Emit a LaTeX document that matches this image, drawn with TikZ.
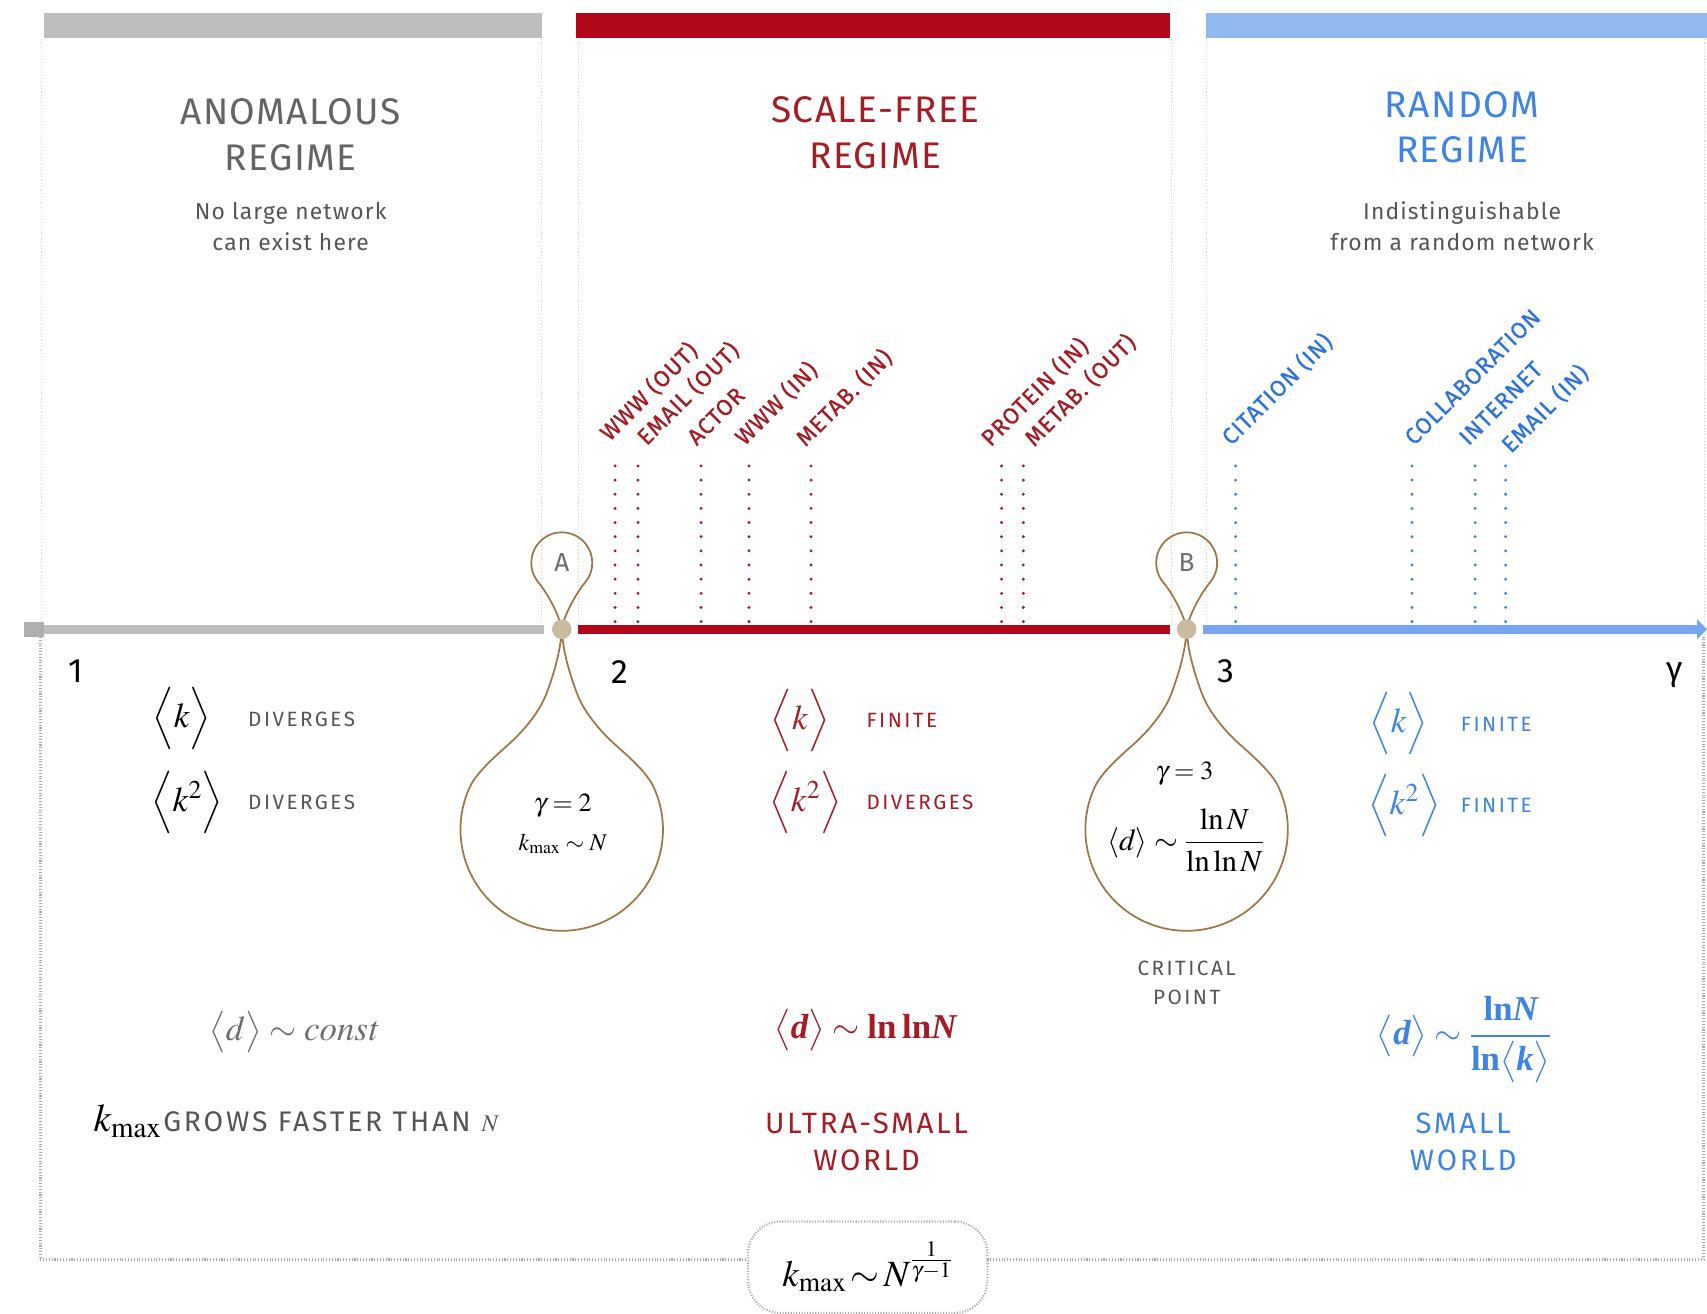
\documentclass[tikz,border=0pt]{standalone}
\usepackage{amsmath}
\usepackage{mathptmx}
\usepackage[no-math]{fontspec}
\setmainfont{Fira Sans}
\newfontfamily\tms{Liberation Serif}
\newcommand{\tbr}[1]{\text{\tms\bfseries #1}}
\newcommand{\tbi}[1]{\text{\tms\bfseries\itshape #1}}
\newcommand{\lsp}[1]{\addfontfeature{LetterSpace=#1}}
\definecolor{sfred}{RGB}{165,28,36}
\definecolor{barred}{RGB}{178,6,26}
\definecolor{rdblue}{RGB}{62,132,226}
\definecolor{lblblue}{RGB}{45,115,222}
\definecolor{barblue}{RGB}{146,184,240}
\definecolor{axblue}{RGB}{120,166,238}
\definecolor{bargray}{RGB}{190,190,190}
\definecolor{stubgray}{RGB}{175,175,175}
\definecolor{txtgray}{RGB}{85,85,85}
\definecolor{ttlgray}{RGB}{100,100,100}
\definecolor{constgray}{RGB}{110,110,110}
\definecolor{abgray}{RGB}{110,110,110}
\definecolor{loopc}{RGB}{160,118,70}
\definecolor{dotc}{RGB}{202,186,158}
\definecolor{framec}{RGB}{170,170,170}
\definecolor{panelc}{RGB}{210,210,210}
\tikzset{
  every node/.style={inner sep=0pt, outer sep=0pt},
  title/.style={font=\fontsize{34}{42}\selectfont\lsp{4}, align=center},
  note/.style={font=\fontsize{21}{28}\selectfont\lsp{5}, text=txtgray, align=center},
  tick/.style={font=\fontsize{31}{31}\selectfont},
  prop/.style={font=\fontsize{19}{19}\selectfont\lsp{12}, anchor=west},
  mth/.style={font=\fontsize{32}{32}\selectfont},
  world/.style={font=\fontsize{27}{34}\selectfont\lsp{9}, align=center},
  netlbl/.style={font=\fontsize{21}{21}\selectfont\lsp{4}\addfontfeature{FakeBold=0.8}, rotate=45, anchor=base west},
  netdots/.style={line width=3pt, line cap=round, dash pattern=on 0pt off 13pt},
  panel/.style={draw=panelc, line width=1pt, dash pattern=on 1pt off 2pt},
  outerframe/.style={draw=framec, line width=3pt, dash pattern=on 1pt off 1.6pt},
  loopline/.style={draw=loopc, line width=1.6pt},
  joint/.style={circle, fill=dotc, minimum size=18pt},
  axisbar/.style={line width=8pt},
}
\begin{document}
\begin{tikzpicture}[x=1pt, y=1pt, yscale=-1]
\useasboundingbox (0,0) rectangle (1568,1207);
\fill[white] (0,0) rectangle (1568,1207);

% top bars
\fill[bargray] (40,12) rectangle (498,35);
\fill[barred] (529,12) rectangle (1075,35);
\fill[barblue] (1108,12) rectangle (1568,35);

% faint panel borders
\foreach \x in {38,497,531,1076,1108,1566} \draw[panel] (\x,36) -- (\x,572);

% titles
\node[title, text=ttlgray] (tAnom) at (267,124) {ANOMALOUS\\REGIME};
\node[note] (nAnom) at (267,208) {No large network\\can exist here};
\node[title, text=sfred] (tSF) at (804,122) {SCALE-FREE\\REGIME};
\node[title, text=rdblue] (tRand) at (1343,117) {RANDOM\\REGIME};
\node[note] (nRand) at (1343,208) {Indistinguishable\\from a random network};

% network markers: dotted line x / label / label base x / label base y
\foreach \x/\t/\lx/\ly [count=\i] in {565/WWW (OUT)/560/406,586/EMAIL (OUT)/594/410,644/ACTOR/640/410,688/WWW (IN)/684/410,745/METAB. (IN)/740/411,920/PROTEIN (IN)/910/411,940/METAB. (OUT)/950/411}{
  \draw[netdots, sfred] (\x,428) -- (\x,572);
  \node[netlbl, text=sfred] (r\i) at (\lx,\ly) {\t};
}
\foreach \x/\t/\lx/\ly [count=\i] in {1135/CITATION (IN)/1131/410,1297/COLLABORATION/1299/410,1355/INTERNET/1349/410,1383/EMAIL (IN)/1388/417}{
  \draw[netdots, rdblue] (\x,428) -- (\x,572);
  \node[netlbl, text=lblblue] (b\i) at (\lx,\ly) {\t};
}

% loops (A, then B shifted)
\foreach \s in {0,574}{
\begin{scope}[xshift=\s pt]
\draw[loopline] (516,578) .. controls (514,565) and (502.3,544.2) .. (494.6,535)
  arc[start angle=140, end angle=400, radius=28]
  .. controls (529.7,544.2) and (518,565) .. (516,578);
\draw[loopline] (516,578) .. controls (515,598) and (509,618.2) .. (502,637)
  .. controls (495.7,653.9) and (481.3,670.9) .. (468,683)
  .. controls (456.9,693) and (438,709) .. (431.7,722.7)
  arc[start angle=205, end angle=-25, radius=93]
  .. controls (594,709) and (575.1,693) .. (564,683)
  .. controls (550.7,670.9) and (536.3,653.9) .. (530,637)
  .. controls (523,618.2) and (517,598) .. (516,578);
\end{scope}
}
\node[joint] (jA) at (516,578) {};
\node[joint] (jB) at (1090,578) {};
\node[font=\fontsize{24}{24}\selectfont, text=abgray] (lA) at (516,517) {A};
\node[font=\fontsize{24}{24}\selectfont, text=abgray] (lB) at (1090,517) {B};

% axis
\node[fill=stubgray, minimum width=18pt, minimum height=14pt] (stub) at (31,578) {};
\draw[axisbar, draw=bargray] (stub.east) -- ([xshift=-7pt]jA.west);
\draw[axisbar, draw=barred] ([xshift=6pt]jA.east) -- ([xshift=-6pt]jB.west);
\coordinate (axend) at (1560,578);
\draw[axisbar, draw=axblue] ([xshift=6pt]jB.east) -- (axend);
\fill[axblue] (1559,569) -- (1568,578) -- (1559,587) -- cycle;

% tick numbers
\node[tick] (n1) at (70,617) {1};
\node[tick] (n2) at (569,617) {2};
\node[tick] (n3) at (1126,617) {3};
\node[tick] (ng) at (1538,620) {γ};

% circle contents
\node[font=\fontsize{24}{24}\selectfont] (gA) at (517,740) {$\gamma=2$};
\node[font=\fontsize{22}{22}\selectfont] (kmA) at (517,775) {$k_{\max}\sim N$};
\node[font=\fontsize{24}{24}\selectfont] (gB) at (1088,711) {$\gamma=3$};
\node[font=\fontsize{28}{28}\selectfont] (dB) at (1089,772) {$\langle d\rangle\sim\dfrac{\ln N}{\ln\ln N}$};
\node[font=\fontsize{19}{27}\selectfont\lsp{12}, text=txtgray, align=center] (crit) at (1090,903) {CRITICAL\\POINT};

% anomalous column
\node[mth] (kA) at (167,660) {$\Bigl\langle k\Bigr\rangle$};
\node[prop, text=txtgray] (kAt) at (228,661) {DIVERGES};
\node[mth] (k2A) at (172,737) {$\Bigl\langle k^2\Bigr\rangle$};
\node[prop, text=txtgray] (k2At) at (228,737) {DIVERGES};
\node[mth, text=constgray] (dConst) at (270,948) {$\bigl\langle d\bigr\rangle\sim \mathit{const}$};
\node[anchor=west] (kGrow) at (86,1030) {{\fontsize{36}{36}\selectfont$k_{\max}$}\,{\fontsize{26}{26}\selectfont\lsp{10}\color{txtgray}GROWS FASTER THAN}\hspace{10pt}{\fontsize{22}{22}\selectfont\color{txtgray}$N$}};

% scale-free column
\node[mth, text=sfred] (kB) at (735,662) {$\Bigl\langle k\Bigr\rangle$};
\node[prop, text=sfred] (kBt) at (796,662) {FINITE};
\node[mth, text=sfred] (k2B) at (740,737) {$\Bigl\langle k^2\Bigr\rangle$};
\node[prop, text=sfred] (k2Bt) at (796,737) {DIVERGES};
\node[mth, text=sfred] (dSF) at (795,946) {$\bigl\langle \tbi{d}\bigr\rangle\sim \tbr{ln\,ln}\tbi{N}$};
\node[world, text=sfred] (wSF) at (796,1049) {ULTRA-SMALL\\WORLD};

% random column
\node[mth, text=rdblue] (kC) at (1285,665) {$\Bigl\langle k\Bigr\rangle$};
\node[prop, text=rdblue] (kCt) at (1342,665) {FINITE};
\node[mth, text=rdblue] (k2C) at (1290,740) {$\Bigl\langle k^2\Bigr\rangle$};
\node[prop, text=rdblue] (k2Ct) at (1342,740) {FINITE};
\node[mth, text=rdblue] (dRand) at (1345,955) {$\bigl\langle \tbi{d}\bigr\rangle\sim \dfrac{\tbr{ln}\tbi{N}}{\tbr{ln}\bigl\langle \tbi{k}\bigr\rangle}$};
\node[world, text=rdblue] (wRand) at (1344,1049) {SMALL\\WORLD};

% bottom frame and formula
\node[draw=framec, line width=2pt, dash pattern=on 1pt off 1.5pt, rounded corners=30pt,
      minimum width=220pt, minimum height=84pt, font=\fontsize{34}{34}\selectfont] (kmax) at (797,1164)
      {$k_{\max}\!\sim\! N^{\frac{1}{\gamma-1}}$};
\coordinate (ftl) at (37,585);
\coordinate (fbl) at (37,1157);
\coordinate (fbr) at (1565,1157);
\coordinate (ftr) at (1565,585);
\draw[outerframe] (ftl) -- (fbl) -- (kmax.west |- fbl);
\draw[outerframe] (kmax.east |- fbr) -- (fbr) -- (ftr);
\end{tikzpicture}
\end{document}
